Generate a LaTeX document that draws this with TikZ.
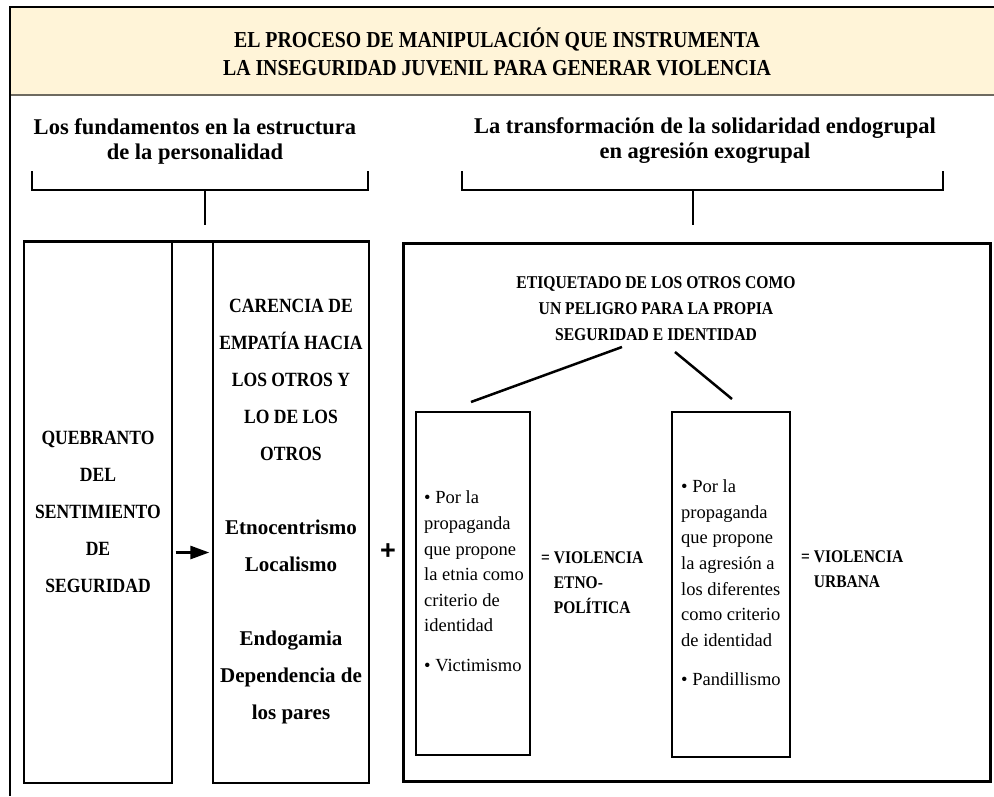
\documentclass[tikz,border=0pt]{standalone}
\usepackage{fontspec}
\setmainfont{Liberation Serif}
\newfontfamily\condfont[FakeStretch=0.87]{Liberation Serif}
\newfontfamily\plusfont{Liberation Sans}
\usetikzlibrary{arrows.meta}
\definecolor{hdrfill}{HTML}{FFF4D8}
\definecolor{hdrline}{HTML}{6E6A60}
\newcommand{\lcfont}{\normalfont\bfseries\fontsize{21}{37}\selectfont}
\tikzset{
  outerline/.style={line width=2.6pt, black},
  bracketline/.style={line width=2.6pt, black, line cap=rect},
  colbox/.style={draw, line width=1.4pt, inner sep=0pt, minimum width=#1, minimum height=541pt},
  bigbox/.style={draw, line width=3pt, inner sep=0pt, minimum width=587pt, minimum height=538pt},
  inbox/.style={draw, line width=1.3pt, inner sep=0pt},
  diag/.style={line width=2.5pt, black},
  capsA/.style={font=\condfont\bfseries\fontsize{20.2}{37}\selectfont, align=center, inner sep=0pt},
  bodytext/.style={font=\fontsize{18.5}{25.6}\selectfont, align=left, inner sep=0pt, anchor=west},
  resulttext/.style={font=\condfont\bfseries\fontsize{17.8}{25}\selectfont, align=left, inner sep=0pt, anchor=west},
}
\begin{document}
\begin{tikzpicture}[x=1pt,y=-1pt]
\useasboundingbox (0,0) rectangle (994,796);
% header band
\fill[hdrfill] (10,7) rectangle (994,95);
\draw[line width=1.6pt, hdrline] (10,95) -- (994,95);
\draw[outerline] (994,7) -- (10,7) -- (10,796);
\node[font=\condfont\bfseries\fontsize{22.8}{28}\selectfont, align=center, inner sep=0pt] (title) at (497,52)
  {EL PROCESO DE MANIPULACIÓN QUE INSTRUMENTA\\LA INSEGURIDAD JUVENIL PARA GENERAR VIOLENCIA};
% subheadings
\node[font=\bfseries\fontsize{22.5}{25}\selectfont, align=center, inner sep=0pt] (subL) at (195,141)
  {Los fundamentos en la estructura\\de la personalidad};
\node[font=\bfseries\fontsize{22.5}{25}\selectfont, align=center, inner sep=0pt] (subR) at (705,141)
  {La transformación de la solidaridad endogrupal\\en agresión exogrupal};
% brackets
\coordinate (bl1) at (32,172); \coordinate (bl2) at (368,172); \coordinate (blm) at (205,190); \coordinate (blb) at (205,224);
\draw[bracketline] (bl1) |- (bl2 |- blm) -- (bl2);
\draw[bracketline] (blm) -- (blb);
\coordinate (br1) at (462,172); \coordinate (br2) at (943,172); \coordinate (brm) at (693,190); \coordinate (brb) at (693,224);
\draw[bracketline] (br1) |- (br2 |- brm) -- (br2);
\draw[bracketline] (brm) -- (brb);
% left block
\node[colbox=148pt] (q) at (98,512.5) {};
\node[colbox=156pt] (c) at (291,512.5) {};
\draw[line width=2.6pt] (q.north west) -- (c.north east);
\node[capsA] (qt) at (98,512) {QUEBRANTO\\DEL\\SENTIMIENTO\\DE\\SEGURIDAD};
\node[capsA] (ct) at (291,512) {CARENCIA DE\\EMPATÍA HACIA\\LOS OTROS Y\\LO DE LOS\\OTROS\\[37pt]%
  \lcfont Etnocentrismo\\\lcfont Localismo\\[37pt]\lcfont Endogamia\\\lcfont Dependencia de\\\lcfont los pares};
\draw[line width=2.8pt, -{Triangle[length=19pt,width=13pt]}] ([xshift=3pt,yshift=-40pt]q.east) -- ([xshift=-3pt,yshift=-40pt]c.west);
\node[font=\plusfont\bfseries\fontsize{27}{27}\selectfont, inner sep=0pt] (plus) at (388,552) {+};
% right block
\node[bigbox] (r) at (696.5,512) {};
\node[font=\condfont\bfseries\fontsize{18}{26}\selectfont, align=center, inner sep=0pt] (etq) at (656,309)
  {ETIQUETADO DE LOS OTROS COMO\\UN PELIGRO PARA LA PROPIA\\SEGURIDAD E IDENTIDAD};
\node[inbox, minimum width=114pt, minimum height=343pt] (el) at (473,583.5) {};
\node[inbox, minimum width=118pt, minimum height=345pt] (er) at (731,584.5) {};
\coordinate (dl1) at (622,347); \coordinate (dl2) at (471,402);
\coordinate (dr1) at (675,352); \coordinate (dr2) at (732,399);
\draw[diag] (dl1) -- (dl2);
\draw[diag] (dr1) -- (dr2);
\node[bodytext] (elt) at (424,581.5) {• Por la\\propaganda\\que propone\\la etnia como\\criterio de\\identidad\\[14pt]• Victimismo};
\node[bodytext] (ert) at (681,583) {• Por la\\propaganda\\que propone\\la agresión a\\los diferentes\\como criterio\\de identidad\\[14pt]• Pandillismo};
\node[resulttext] (v1) at (541,583) {= VIOLENCIA\\\hphantom{= }ETNO-\\\hphantom{= }POLÍTICA};
\node[resulttext] (v2) at (801,569) {= VIOLENCIA\\\hphantom{= }URBANA};
\end{tikzpicture}
\end{document}
